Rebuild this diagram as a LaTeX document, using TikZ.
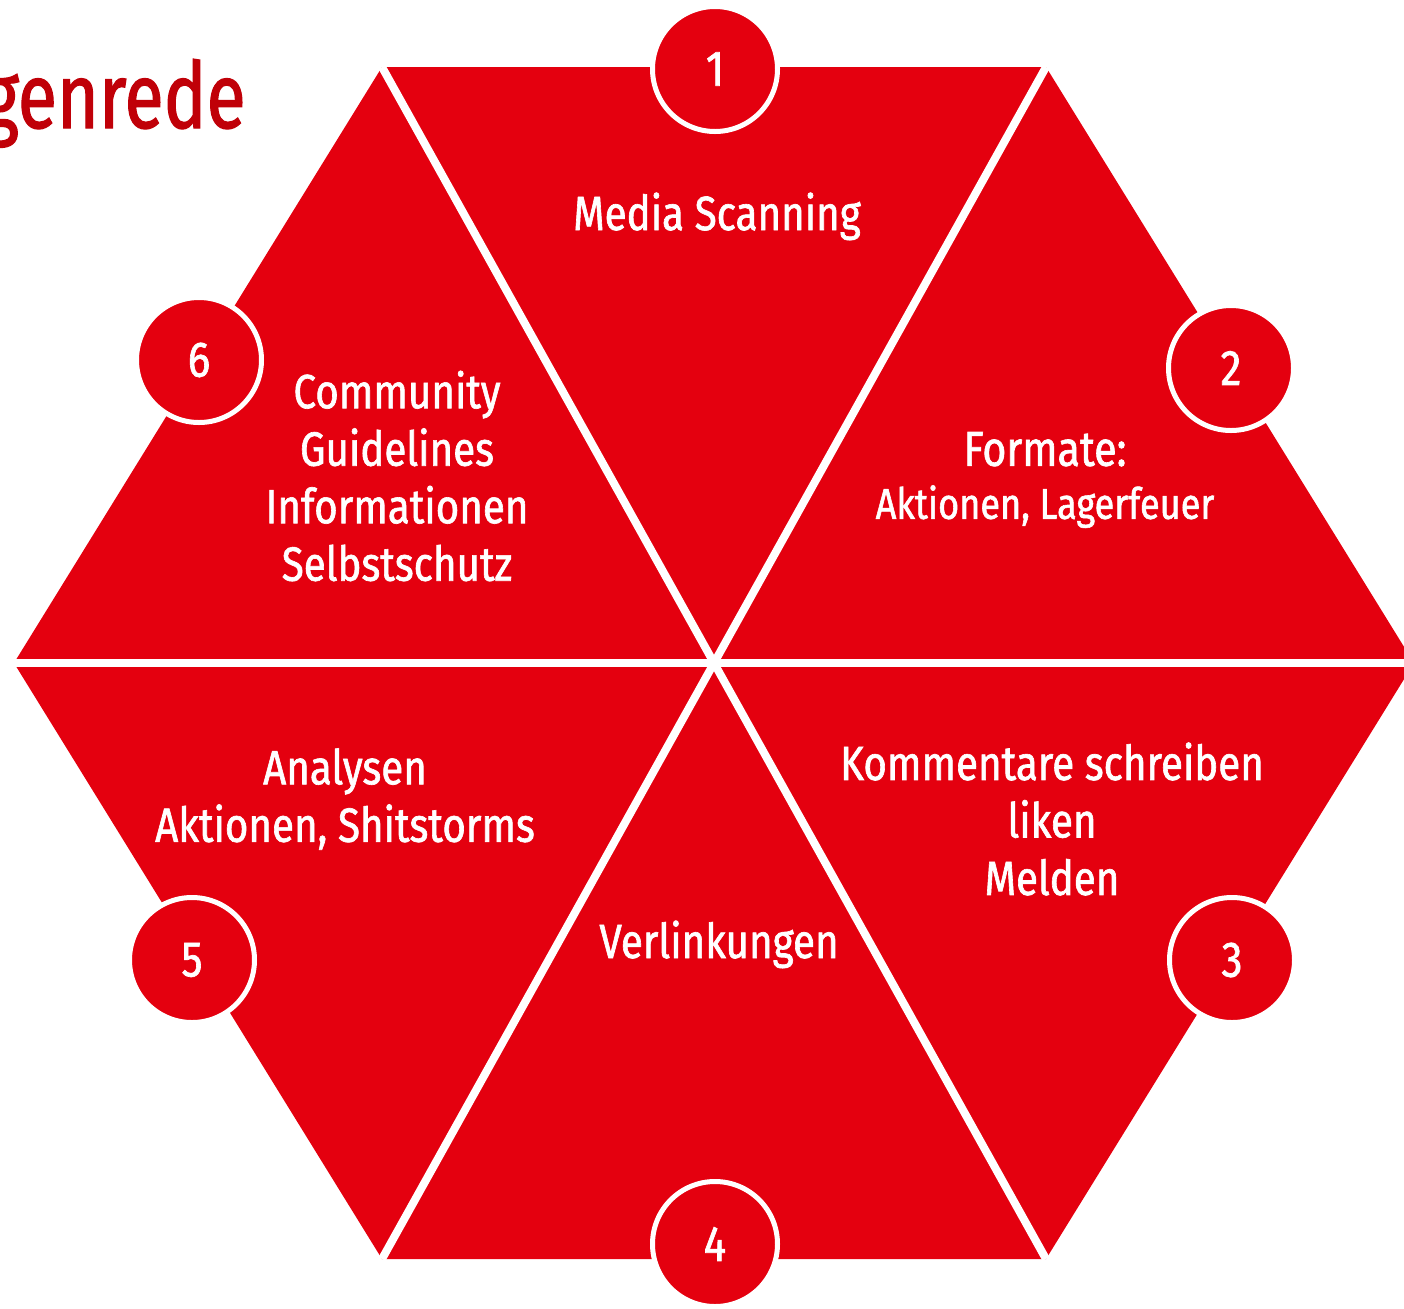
\documentclass[tikz,border=0pt]{standalone}
\usepackage{fontspec}
\setmainfont{Fira Sans}[FakeStretch=0.84, FakeBold=1.3]
\newfontfamily\titlefont{Fira Sans}[FakeStretch=0.78, FakeBold=1.3]
\usepackage{xcolor}
\definecolor{hexred}{RGB}{228,0,15}
\definecolor{titlered}{RGB}{192,0,8}

\tikzset{
  gap/.style={draw=white, line width=4pt},
  numdisc/.style={circle, draw=white, line width=2.5pt, fill=hexred,
    minimum size=62.5pt, inner sep=0pt, text=white,
    font=\fontsize{25}{28}\selectfont},
  seglabel/.style={text=white, align=center, inner sep=0pt,
    font=\fontsize{24}{28.75}\selectfont},
}

\begin{document}
\begin{tikzpicture}[x=0.5pt,y=-0.5pt]
        \useasboundingbox (0,0) rectangle (1404,1308);

        % corners of the hexagon
        \coordinate (tl) at (382,67);
        \coordinate (tr) at (1046,67);
        \coordinate (rr) at (1414,663);
        \coordinate (br) at (1046,1259);
        \coordinate (bl) at (382,1259);
        \coordinate (ll) at (14,663);

        \node[text=titlered, anchor=base east, inner sep=0pt,
            font=\titlefont\fontsize{46}{50}\selectfont] (title) at (246,128) {genrede};

        \fill[hexred] (tl) -- (tr) -- (rr) -- (br) -- (bl) -- (ll) -- cycle;
        \draw[gap] (tl) -- (br);
        \draw[gap] (tr) -- (bl);
        \draw[gap] (ll) -- (rr);

        \node[numdisc] (n1) at (715,69) {1};
        \node[numdisc] (n2) at (1231,368) {2};
        \node[numdisc] (n3) at (1232,960) {3};
        \node[numdisc] (n4) at (715,1244) {4};
        \node[numdisc] (n5) at (192,960) {5};
        \node[numdisc] (n6) at (199,360) {6};

        \node[seglabel, anchor=base] (media) at (717,230) {Media Scanning};
        \node[seglabel, font=\fontsize{24.5}{26.5}\selectfont] (formate) at (1045,480)
            {Formate:\\{\fontsize{21.5}{26.5}\selectfont Aktionen, Lagerfeuer}};
        \node[seglabel] (komm) at (1052,819) {Kommentare schreiben\\liken\\Melden};
        \node[seglabel, anchor=base] (verl) at (719,958) {Verlinkungen};
        \node[seglabel] (analy) at (345,799) {Analysen\\Aktionen, Shitstorms};
        \node[seglabel] (comm) at (397,476)
            {Community\\Guidelines\\Informationen\\Selbstschutz};
\end{tikzpicture}
\end{document}
